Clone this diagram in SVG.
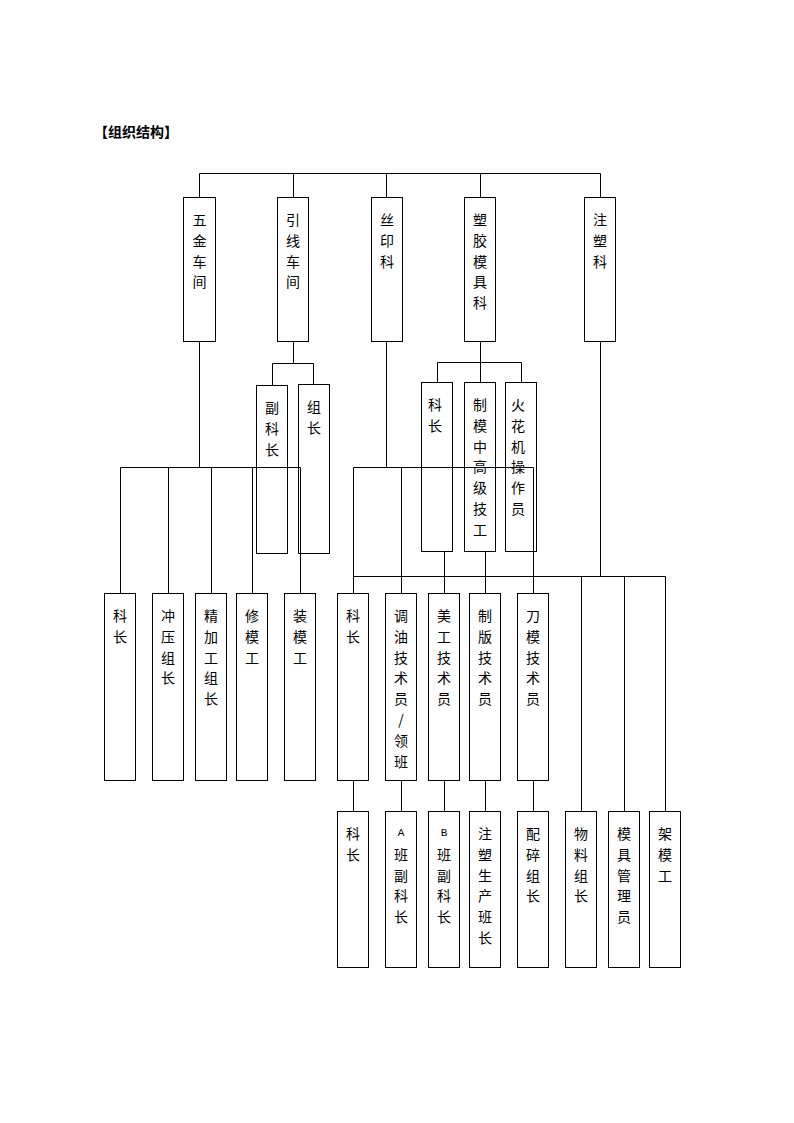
<svg xmlns="http://www.w3.org/2000/svg" width="794" height="1123" viewBox="0 0 794 1123">
<style>
.b{fill:none;stroke:#000;stroke-width:1}
.c{fill:none;stroke:#000;stroke-width:1}
.t{font-family:"Noto Sans CJK SC","Noto Sans CJK JP",sans-serif;font-size:14px;text-anchor:middle;dominant-baseline:central;fill:#000}
.l{font-family:"Liberation Mono",monospace;font-size:11px}
.h{font-family:"Noto Sans CJK SC",sans-serif;font-size:14px;font-weight:bold;fill:#000}
</style>
<rect width="794" height="1123" fill="#fff"/>
<text class="h" x="94" y="137">【组织结构】</text>
<g id="connectors">
<path class="c" d="M199.5 173.5H600.5M199.5 173.5V197.5M293.5 173.5V197.5M386.5 173.5V197.5M480.5 173.5V197.5M600.5 173.5V197.5"/>
<path class="c" d="M199.5 341.5V467.5M120.5 467.5H300.5M120.5 467.5V593.5M168.5 467.5V593.5M211.5 467.5V593.5M252.5 467.5V593.5M300.5 467.5V593.5"/>
<path class="c" d="M293.5 341.5V363.5M272.5 363.5H313.5M272.5 363.5V385.5M313.5 363.5V384.5"/>
<path class="c" d="M386.5 341.5V467.5M353.5 467.5H533.5M353.5 467.5V593.5M401.5 467.5V593.5M533.5 467.5V593.5"/>
<path class="c" d="M480.5 341.5V382.5M437.5 362.5H521.5M437.5 362.5V382.5M521.5 362.5V382.5M444.5 551.5V593.5M485.5 551.5V593.5"/>
<path class="c" d="M600.5 341.5V576.5M353.5 576.5H665.5M581.5 576.5V811.5M624.5 576.5V811.5M665.5 576.5V811.5"/>
<path class="c" d="M353.5 780.5V811.5M401.5 780.5V811.5M444.5 780.5V811.5M485.5 780.5V811.5M533.5 780.5V811.5"/>
</g>
<g id="n-wujin"><rect class="b" x="183.5" y="197.5" width="32" height="144"/><text class="t"><tspan x="199.5" y="219">五</tspan><tspan x="199.5" y="239.8">金</tspan><tspan x="199.5" y="260.6">车</tspan><tspan x="199.5" y="281.4">间</tspan></text></g>
<g id="n-yinxian"><rect class="b" x="277.5" y="197.5" width="31" height="144"/><text class="t"><tspan x="293" y="219">引</tspan><tspan x="293" y="239.8">线</tspan><tspan x="293" y="260.6">车</tspan><tspan x="293" y="281.4">间</tspan></text></g>
<g id="n-siyin"><rect class="b" x="371.5" y="197.5" width="31" height="144"/><text class="t"><tspan x="387" y="219">丝</tspan><tspan x="387" y="239.8">印</tspan><tspan x="387" y="260.6">科</tspan></text></g>
<g id="n-sujiao"><rect class="b" x="464.5" y="197.5" width="31" height="144"/><text class="t"><tspan x="480" y="219">塑</tspan><tspan x="480" y="239.8">胶</tspan><tspan x="480" y="260.6">模</tspan><tspan x="480" y="281.4">具</tspan><tspan x="480" y="302.2">科</tspan></text></g>
<g id="n-zhusu"><rect class="b" x="584.5" y="197.5" width="31" height="144"/><text class="t"><tspan x="600" y="219">注</tspan><tspan x="600" y="239.8">塑</tspan><tspan x="600" y="260.6">科</tspan></text></g>
<g id="n-fukezhang"><rect class="b" x="256.5" y="385.5" width="31" height="168"/><text class="t"><tspan x="272" y="407">副</tspan><tspan x="272" y="427.8">科</tspan><tspan x="272" y="448.6">长</tspan></text></g>
<g id="n-zuzhang"><rect class="b" x="298.5" y="384.5" width="31" height="169"/><text class="t"><tspan x="314" y="406">组</tspan><tspan x="314" y="426.8">长</tspan></text></g>
<g id="n-sj-kezhang"><rect class="b" x="421.5" y="382.5" width="31" height="169"/><text class="t"><tspan x="435" y="404">科</tspan><tspan x="435" y="424.8">长</tspan></text></g>
<g id="n-zhimo"><rect class="b" x="464.5" y="382.5" width="31" height="169"/><text class="t"><tspan x="480" y="404">制</tspan><tspan x="480" y="424.8">模</tspan><tspan x="480" y="445.6">中</tspan><tspan x="480" y="466.4">高</tspan><tspan x="480" y="487.2">级</tspan><tspan x="480" y="508">技</tspan><tspan x="480" y="528.8">工</tspan></text></g>
<g id="n-huohua"><rect class="b" x="505.5" y="382.5" width="31" height="169"/><text class="t"><tspan x="518" y="404">火</tspan><tspan x="518" y="424.8">花</tspan><tspan x="518" y="445.6">机</tspan><tspan x="518" y="466.4">操</tspan><tspan x="518" y="487.2">作</tspan><tspan x="518" y="508">员</tspan></text></g>
<g id="n-wj-kezhang"><rect class="b" x="104.5" y="593.5" width="31" height="187"/><text class="t"><tspan x="120" y="615">科</tspan><tspan x="120" y="635.8">长</tspan></text></g>
<g id="n-chongya"><rect class="b" x="152.5" y="593.5" width="31" height="187"/><text class="t"><tspan x="168" y="615">冲</tspan><tspan x="168" y="635.8">压</tspan><tspan x="168" y="656.6">组</tspan><tspan x="168" y="677.4">长</tspan></text></g>
<g id="n-jingjiagong"><rect class="b" x="195.5" y="593.5" width="31" height="187"/><text class="t"><tspan x="211" y="615">精</tspan><tspan x="211" y="635.8">加</tspan><tspan x="211" y="656.6">工</tspan><tspan x="211" y="677.4">组</tspan><tspan x="211" y="698.2">长</tspan></text></g>
<g id="n-xiumo"><rect class="b" x="236.5" y="593.5" width="31" height="187"/><text class="t"><tspan x="252" y="615">修</tspan><tspan x="252" y="635.8">模</tspan><tspan x="252" y="656.6">工</tspan></text></g>
<g id="n-zhuangmo"><rect class="b" x="284.5" y="593.5" width="31" height="187"/><text class="t"><tspan x="300" y="615">装</tspan><tspan x="300" y="635.8">模</tspan><tspan x="300" y="656.6">工</tspan></text></g>
<g id="n-si-kezhang"><rect class="b" x="337.5" y="593.5" width="31" height="187"/><text class="t"><tspan x="353" y="615">科</tspan><tspan x="353" y="635.8">长</tspan></text></g>
<g id="n-tiaoyou"><rect class="b" x="385.5" y="593.5" width="31" height="187"/><text class="t"><tspan x="401" y="615">调</tspan><tspan x="401" y="635.8">油</tspan><tspan x="401" y="656.6">技</tspan><tspan x="401" y="677.4">术</tspan><tspan x="401" y="698.2">员</tspan><tspan x="401" y="719">/</tspan><tspan x="401" y="739.8">领</tspan><tspan x="401" y="760.6">班</tspan></text></g>
<g id="n-meigong"><rect class="b" x="428.5" y="593.5" width="31" height="187"/><text class="t"><tspan x="444" y="615">美</tspan><tspan x="444" y="635.8">工</tspan><tspan x="444" y="656.6">技</tspan><tspan x="444" y="677.4">术</tspan><tspan x="444" y="698.2">员</tspan></text></g>
<g id="n-zhiban"><rect class="b" x="469.5" y="593.5" width="31" height="187"/><text class="t"><tspan x="485" y="615">制</tspan><tspan x="485" y="635.8">版</tspan><tspan x="485" y="656.6">技</tspan><tspan x="485" y="677.4">术</tspan><tspan x="485" y="698.2">员</tspan></text></g>
<g id="n-daomo"><rect class="b" x="517.5" y="593.5" width="31" height="187"/><text class="t"><tspan x="533" y="615">刀</tspan><tspan x="533" y="635.8">模</tspan><tspan x="533" y="656.6">技</tspan><tspan x="533" y="677.4">术</tspan><tspan x="533" y="698.2">员</tspan></text></g>
<g id="n-zs-kezhang"><rect class="b" x="337.5" y="811.5" width="31" height="156"/><text class="t"><tspan x="353" y="833">科</tspan><tspan x="353" y="853.8">长</tspan></text></g>
<g id="n-abanfu"><rect class="b" x="385.5" y="811.5" width="31" height="156"/><text class="t"><tspan class="l" x="401" y="833">A</tspan><tspan x="401" y="853.8">班</tspan><tspan x="401" y="874.6">副</tspan><tspan x="401" y="895.4">科</tspan><tspan x="401" y="916.2">长</tspan></text></g>
<g id="n-bbanfu"><rect class="b" x="428.5" y="811.5" width="31" height="156"/><text class="t"><tspan class="l" x="444" y="833">B</tspan><tspan x="444" y="853.8">班</tspan><tspan x="444" y="874.6">副</tspan><tspan x="444" y="895.4">科</tspan><tspan x="444" y="916.2">长</tspan></text></g>
<g id="n-shengchan"><rect class="b" x="469.5" y="811.5" width="31" height="156"/><text class="t"><tspan x="485" y="833">注</tspan><tspan x="485" y="853.8">塑</tspan><tspan x="485" y="874.6">生</tspan><tspan x="485" y="895.4">产</tspan><tspan x="485" y="916.2">班</tspan><tspan x="485" y="937">长</tspan></text></g>
<g id="n-peisui"><rect class="b" x="517.5" y="811.5" width="31" height="156"/><text class="t"><tspan x="533" y="833">配</tspan><tspan x="533" y="853.8">碎</tspan><tspan x="533" y="874.6">组</tspan><tspan x="533" y="895.4">长</tspan></text></g>
<g id="n-wuliao"><rect class="b" x="565.5" y="811.5" width="31" height="156"/><text class="t"><tspan x="581" y="833">物</tspan><tspan x="581" y="853.8">料</tspan><tspan x="581" y="874.6">组</tspan><tspan x="581" y="895.4">长</tspan></text></g>
<g id="n-mojuguanli"><rect class="b" x="608.5" y="811.5" width="31" height="156"/><text class="t"><tspan x="624" y="833">模</tspan><tspan x="624" y="853.8">具</tspan><tspan x="624" y="874.6">管</tspan><tspan x="624" y="895.4">理</tspan><tspan x="624" y="916.2">员</tspan></text></g>
<g id="n-jiamo"><rect class="b" x="649.5" y="811.5" width="31" height="156"/><text class="t"><tspan x="665" y="833">架</tspan><tspan x="665" y="853.8">模</tspan><tspan x="665" y="874.6">工</tspan></text></g>
</svg>
